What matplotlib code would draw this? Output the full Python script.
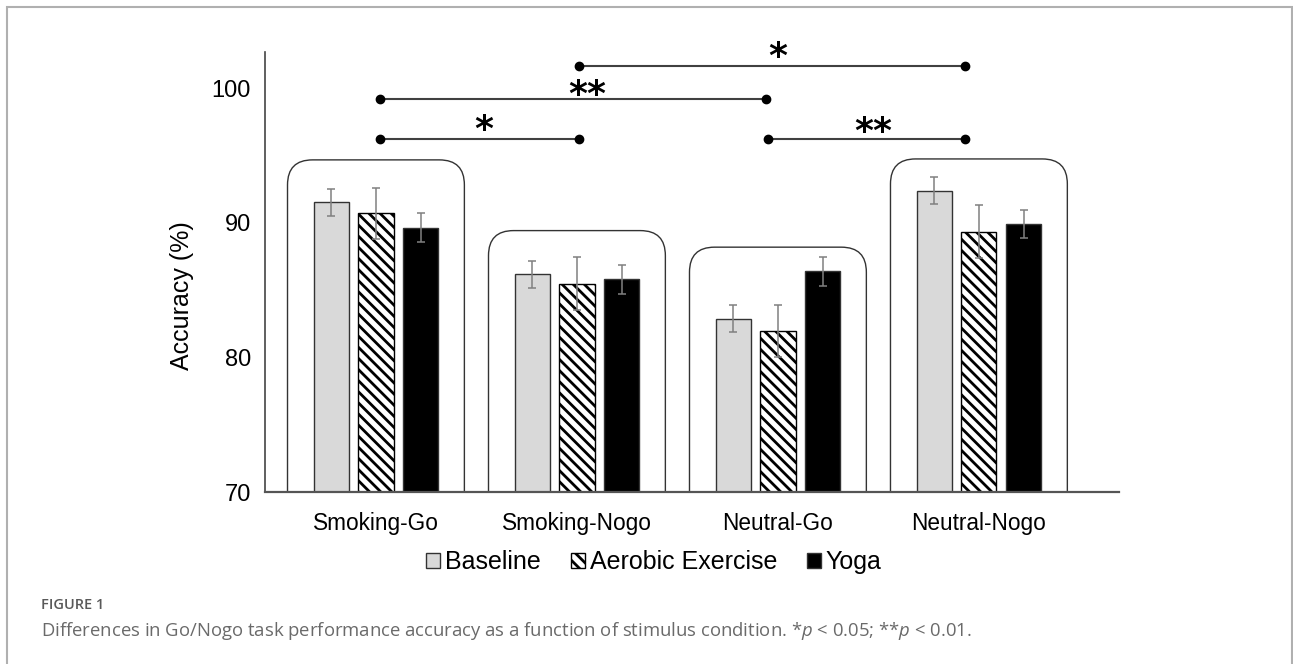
import matplotlib
matplotlib.use("Agg")
import matplotlib.pyplot as plt
from matplotlib.patches import FancyBboxPatch, Patch, Rectangle
import numpy as np

plt.rcParams['font.family'] = ['Liberation Sans', 'DejaVu Sans']
plt.rcParams['hatch.linewidth'] = 2.0
plt.rcParams['mathtext.fontset'] = 'custom'
plt.rcParams['mathtext.rm'] = 'Open Sans'
plt.rcParams['mathtext.it'] = 'Open Sans:italic'

# accuracy (%) per stimulus condition, mean and standard error
conditions = ['Smoking-Go', 'Smoking-Nogo', 'Neutral-Go', 'Neutral-Nogo']
groups = ['Baseline', 'Aerobic Exercise', 'Yoga']
baseline = [91.55, 86.2, 82.9, 92.4]
baseline_se = [1.0, 1.0, 1.0, 0.98]
aerobic = [90.7, 85.5, 82.0, 89.35]
aerobic_se = [1.92, 1.98, 1.93, 1.96]
yoga = [89.65, 85.8, 86.4, 89.9]
yoga_se = [1.08, 1.1, 1.05, 1.05]

# significance brackets: (from, to, label)
sig_pairs = [(0, 1, '*'), (0, 2, '**'), (1, 3, '*'), (2, 3, '**')]

fig = plt.figure(figsize=(12.93, 6.64), dpi=100)
ax = fig.add_axes([265 / 1293, (664 - 492.3) / 664, 854 / 1293, 440.3 / 664])

x = np.arange(len(conditions))
w = 0.175
off = 0.222
styles = [
    dict(color='#d9d9d9', edgecolor='#333333'),
    dict(color='white', edgecolor='black', hatch='\\\\\\'),
    dict(color='black', edgecolor='#333333'),
]
for k, (vals, se) in enumerate([(baseline, baseline_se), (aerobic, aerobic_se), (yoga, yoga_se)]):
    pos = x + (k - 1) * off
    ax.bar(pos, vals, w, linewidth=1.0, zorder=2, **styles[k])
    ax.errorbar(pos, vals, yerr=se, fmt='none', ecolor='#808080', elinewidth=1.1,
                capsize=3, capthick=1.1, zorder=3)

# rounded frames around each condition
box_top = [94.68, 89.43, 88.2, 94.75]
px_x, px_y = 201.0, 13.47
for i, top in enumerate(box_top):
    patch = FancyBboxPatch((i - 0.44, 60), 0.88, top - 60,
                           boxstyle='round,pad=0,rounding_size=%f' % (25 / px_x),
                           mutation_aspect=px_x / px_y,
                           facecolor='none', edgecolor='#333333', linewidth=1.0, zorder=1)
    ax.add_patch(patch)

# brackets
bracket_y = [96.26, 99.21, 101.66, 96.26]
bracket_x = [(0.02, 1.01), (0.02, 1.94), (1.01, 2.93), (1.95, 2.93)]
label_x = [0.537, 1.05, 2.0, 2.473]
label_dy = [-1, -6, -1, -3]
for (a, b, lab), y, (x0, x1), lx, dy in zip(sig_pairs, bracket_y, bracket_x, label_x, label_dy):
    ax.plot([x0, x1], [y, y], color='#404040', lw=1.5, zorder=4, clip_on=False)
    ax.plot([x0, x1], [y, y], 'o', color='black', ms=6, zorder=5, clip_on=False)
    ax.annotate(lab, (lx, y), xytext=(0, dy), textcoords='offset pixels',
                ha='center', va='baseline', fontsize=26, fontweight='bold',
                family='DejaVu Sans', annotation_clip=False)

ax.set_xlim(-0.552, 3.697)
ax.set_ylim(70, 102.69)
ax.set_yticks([70, 80, 90, 100])
ax.set_xticks(x)
ax.set_xticklabels(conditions, fontsize=16.3)
ax.tick_params(axis='y', length=0, pad=10, labelsize=17)
ax.tick_params(axis='x', length=0, pad=14)
ax.set_ylabel('Accuracy (%)', fontsize=18)
ax.yaxis.set_label_coords(-0.083, 0.446)
for s in ['top', 'right']:
    ax.spines[s].set_visible(False)
ax.spines['left'].set_color('#444444')
ax.spines['bottom'].set_color('#555555')
ax.spines['left'].set_linewidth(1.2)
ax.spines['bottom'].set_linewidth(1.6)

handles = [Patch(facecolor='#d9d9d9', edgecolor='#333333', linewidth=1),
           Patch(facecolor='white', edgecolor='black', hatch='\\\\\\', linewidth=1),
           Patch(facecolor='black', edgecolor='#333333', linewidth=1)]
fig.legend(handles, groups, loc='center', bbox_to_anchor=(654 / 1293, 1 - 562 / 664),
           ncol=3, frameon=False, fontsize=18, handlelength=0.55, handleheight=0.55,
           handletextpad=0.2, columnspacing=1.2, borderpad=0)

# panel frame and caption
fig.patches.append(Rectangle((7 / 1293, -0.1), 1284.5 / 1293, 1.1 - 7 / 664,
                             transform=fig.transFigure, facecolor='none',
                             edgecolor='#b0b0b0', linewidth=1.5))
fig.text(41 / 1293, 1 - 605 / 664, 'FIGURE 1', fontsize=10.5, fontweight='semibold',
         color='#595959', family='Open Sans', va='center', ha='left')
fig.text(41 / 1293, 1 - 631 / 664,
         'Differences in Go/Nogo task performance accuracy as a function of stimulus condition. '
         '*$p$ < 0.05; **$p$ < 0.01.',
         fontsize=13.3, color='#6a6a6a', family='Open Sans', va='center', ha='left')

fig.savefig('out.png', dpi=100)
